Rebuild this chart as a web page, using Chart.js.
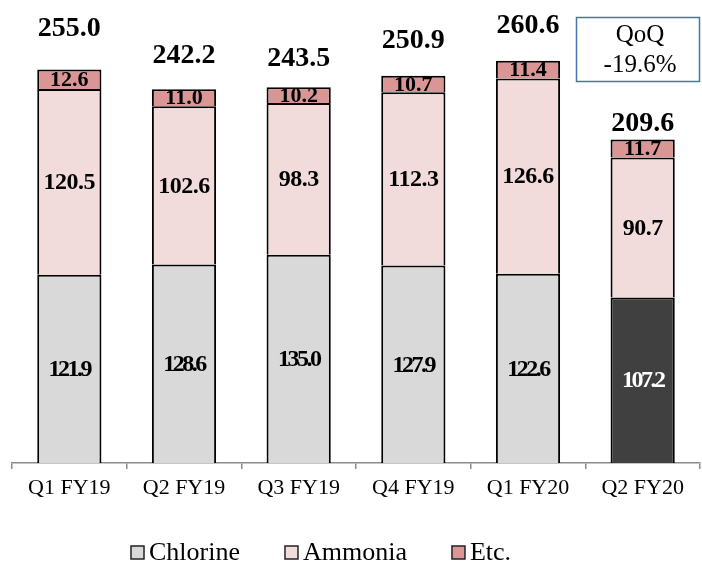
<!DOCTYPE html>
<html>
<head>
<meta charset="utf-8">
<script src="https://cdn.jsdelivr.net/npm/chart.js@4.4.1/dist/chart.umd.min.js"></script>
<style>
  html, body { margin: 0; padding: 0; background: #fff; }
  canvas { display: block; }
</style>
</head>
<body>
<canvas id="salesChart" width="702" height="563"></canvas>
<script>
// quarterly sales by product line
var quarters = ['Q1 FY19', 'Q2 FY19', 'Q3 FY19', 'Q4 FY19', 'Q1 FY20', 'Q2 FY20'];
var chlorine = [121.9, 128.6, 135.0, 127.9, 122.6, 107.2];
var ammonia  = [120.5, 102.6, 98.3, 112.3, 126.6, 90.7];
var etc      = [12.6, 11.0, 10.2, 10.7, 11.4, 11.7];
var totals   = [255.0, 242.2, 243.5, 250.9, 260.6, 209.6];
var qoqLines = ['QoQ', '-19.6%'];

var serif = '"Liberation Serif", "Times New Roman", serif';
// gap in px between the top of each bar and its total label
var totalGap = [33, 26, 21, 28, 28, 9];

var chlorineColors = quarters.map(function (q, i) {
  return i === quarters.length - 1 ? '#404040' : '#d9d9d9';
});

var labelStyle = [
  { size: 24, spacing: '-2.5px', color: function (i) { return i === quarters.length - 1 ? '#fff' : '#000'; } },
  { size: 24, spacing: '-0.5px', color: function () { return '#000'; } },
  { size: 22, spacing: '0px', color: function () { return '#000'; } }
];

var barLabels = {
  id: 'barLabels',
  afterDatasetsDraw: function (chart) {
    var ctx = chart.ctx;
    ctx.save();
    ctx.textAlign = 'center';
    chart.data.datasets.forEach(function (ds, d) {
      var meta = chart.getDatasetMeta(d);
      var st = labelStyle[d];
      meta.data.forEach(function (bar, i) {
        ctx.font = 'bold ' + st.size + 'px ' + serif;
        ctx.letterSpacing = st.spacing;
        ctx.fillStyle = st.color(i);
        ctx.textBaseline = 'middle';
        ctx.fillText(ds.data[i].toFixed(1), bar.x, (bar.y + bar.base) / 2 + 1);
      });
    });
    // totals above each stack
    var top = chart.getDatasetMeta(chart.data.datasets.length - 1);
    ctx.letterSpacing = '0px';
    ctx.font = 'bold 28px ' + serif;
    ctx.fillStyle = '#000';
    ctx.textBaseline = 'alphabetic';
    top.data.forEach(function (bar, i) {
      ctx.fillText(totals[i].toFixed(1), bar.x, bar.y - totalGap[i]);
    });
    ctx.restore();
  },
  afterDraw: function (chart) {
    var ctx = chart.ctx;
    ctx.save();
    // QoQ box
    ctx.strokeStyle = '#4a74a8';
    ctx.lineWidth = 1.5;
    ctx.strokeRect(576.5, 17.5, 123, 64);
    ctx.fillStyle = '#000';
    ctx.font = '25px ' + serif;
    ctx.textAlign = 'center';
    ctx.textBaseline = 'middle';
    ctx.fillText(qoqLines[0], 640, 35);
    ctx.fillText(qoqLines[1], 640, 65);

    // legend
    ctx.textAlign = 'left';
    ctx.font = '26px ' + serif;
    var x = 131, y = 552;
    chart.data.datasets.forEach(function (ds) {
      ctx.fillStyle = ds.legendColor;
      ctx.fillRect(x, y - 6, 13, 13);
      ctx.strokeStyle = '#222';
      ctx.lineWidth = 1.5;
      ctx.strokeRect(x, y - 6, 13, 13);
      ctx.fillStyle = '#000';
      ctx.fillText(ds.label, x + 18, y + 1);
      x += 18 + ctx.measureText(ds.label).width + 45;
    });
    ctx.restore();
  }
};

var ctx = document.getElementById('salesChart').getContext('2d');
var salesChart = new Chart(ctx, {
  type: 'bar',
  data: {
    labels: quarters,
    datasets: [{
      label: 'Chlorine',
      data: chlorine,
      backgroundColor: chlorineColors,
      legendColor: '#d9d9d9'
    }, {
      label: 'Ammonia',
      data: ammonia,
      backgroundColor: '#f2dcdb',
      legendColor: '#f2dcdb'
    }, {
      label: 'Etc.',
      data: etc,
      backgroundColor: '#d99694',
      legendColor: '#d99694'
    }]
  },
  options: {
    responsive: false,
    animation: false,
    layout: { padding: { left: 12, right: 2, top: 0, bottom: 0 } },
    datasets: {
      bar: {
        borderColor: '#000',
        borderWidth: 2,
        borderSkipped: 'start',
        categoryPercentage: 1,
        barPercentage: 0.56
      }
    },
    plugins: {
      legend: { display: false },
      tooltip: { enabled: false }
    },
    scales: {
      x: {
        stacked: true,
        grid: {
          offset: true,
          drawOnChartArea: false,
          drawTicks: true,
          tickLength: 6,
          color: '#8c8c8c',
          lineWidth: 1.5
        },
        border: { display: true, color: '#8c8c8c', width: 1.5 },
        ticks: {
          color: '#000',
          padding: 6,
          font: { family: serif, size: 22 }
        },
        afterFit: function (scale) { scale.height = 100; }
      },
      y: {
        stacked: true,
        display: false,
        min: 0,
        max: 300
      }
    }
  },
  plugins: [barLabels]
});
</script>
</body>
</html>
